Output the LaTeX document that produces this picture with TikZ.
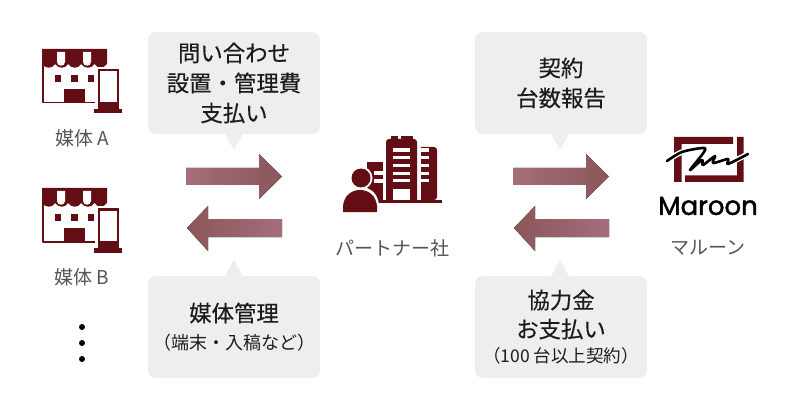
\documentclass[tikz,border=0pt]{standalone}
\usepackage{fontspec}
\setmainfont{Noto Sans CJK JP}[BoldFeatures={FakeBold=0.35}, BoldFont={Noto Sans CJK JP}]
\newfontfamily\logofont{Poppins}[BoldFeatures={FakeBold=1.6}, BoldFont={Poppins}]
\definecolor{maroondark}{HTML}{630D14}
\definecolor{bubblegray}{HTML}{EEEEEE}
\definecolor{labelgray}{HTML}{555555}
\definecolor{textdark}{HTML}{1C1C1C}
\definecolor{arrowlight}{HTML}{A56E7C}
\definecolor{arrowdeep}{HTML}{8A5659}
\tikzset{
  bubble/.style={fill=bubblegray, rounded corners=8pt, minimum width=172pt, minimum height=102pt, inner sep=0pt, align=center, text=textdark, font=\bfseries\fontsize{22.4}{30}\selectfont},
  caption/.style={text=labelgray, font=\fontsize{19}{22}\selectfont, inner sep=0pt},
  storeicon/.pic={
    \draw[maroondark, line width=1.8pt, fill=white] (0.9,10)--(0.9,53.6)--(53,53.6);
    \fill[maroondark] (0,0)--(65,0)--(65,15) .. controls (61,20) and (56,20) .. (52.5,15) .. controls (49,20) and (43,20) .. (39,15) .. controls (36,20) and (30,20) .. (26,15) .. controls (23,20) and (17,20) .. (13,15) .. controls (10,20) and (4,20) .. (0,15)--cycle;
    \fill[white] (15,3)--(23,3)--(23,13) .. controls (23,18) and (15,18) .. (15,13)--cycle;
    \fill[white] (41,3)--(49,3)--(49,13) .. controls (49,18) and (41,18) .. (41,13)--cycle;
    \foreach \wx in {12.5,29,45.5}
      \fill[maroondark] (\wx,26) rectangle ++(6.5,7);
    \fill[maroondark] (22,40) rectangle (43,54);
    \fill[white] (53,18) rectangle (81,60);
    \fill[maroondark] (56,20) rectangle (77,61);
    \fill[white] (58,22.5) rectangle (75,53);
    \fill[maroondark] (52,60) rectangle (80,64.5);
  }
}
\begin{document}
\begin{tikzpicture}[x=1pt, y=-1pt, line join=round]
  \useasboundingbox (0,0) rectangle (800,406);
  \pic at (42,49) {storeicon};
  \pic at (42,188) {storeicon};
  \node[caption] (mediaA) at (82,138) {媒体 A};
  \node[caption] (mediaB) at (82,277) {媒体 B};
  \foreach \dy in {327,343,359}
    \fill[black] (82,\dy) circle (3);
  \foreach \bx in {234,560} {
    \fill[bubblegray] (\bx-11,130)--(\bx,150)--(\bx+11,130)--cycle;
    \fill[bubblegray] (\bx-11,280)--(\bx,260)--(\bx+11,280)--cycle;
  }
  \node[bubble] (inquiry) at (234,83) {問い合わせ\\設置・管理費\\支払い};
  \node[bubble] (contract) at (561,83) {契約\\台数報告};
  \node[bubble] (manage) at (234,327) {媒体管理\\[-2pt]{\mdseries\fontsize{18}{24}\selectfont （端末・入稿など）}};
  \node[bubble] (payment) at (561,327) {協力金\\[-1pt]お支払い\\[-5pt]{\mdseries\fontsize{17.5}{22}\selectfont （100 台以上契約）}};
  \foreach \ax in {186,513} {
    \fill[left color=arrowlight, right color=arrowdeep] (\ax,168)--(\ax+73,168)--(\ax+73,154)--(\ax+96,176.5)--(\ax+73,199)--(\ax+73,185)--(\ax,185)--cycle;
    \fill[left color=arrowdeep, right color=arrowlight] (\ax+1,228)--(\ax+22,206)--(\ax+22,219)--(\ax+96,219)--(\ax+96,237)--(\ax+22,237)--(\ax+22,251)--cycle;
  }
  \fill[maroondark] (367,162) rectangle (383,200);
  \fill[white] (374,171) rectangle (383,175);
  \fill[white] (374,179) rectangle (383,183);
  \fill[maroondark] (421,147) [rounded corners=3pt] -- (437,147) -- (437,200) [sharp corners] -- (421,200) -- cycle;
  \fill[maroondark] (386,200) [rounded corners=3pt] -- (386,139) -- (417,139) [sharp corners] -- (417,200) -- cycle;
  \fill[maroondark] (391,136) rectangle (398,140);
  \fill[maroondark] (401,136) rectangle (413,140);
  \foreach \sy/\sh in {148/4,156/3,164/3,172/3,179/3} {
    \fill[white] (393,\sy) rectangle (410,\sy+\sh);
    \fill[white] (421,\sy) rectangle (429,\sy+\sh);
  }
  \fill[white] (393,189) rectangle (410,200);
  \fill[maroondark] (378,200) rectangle (442,203);
  \fill[white] (341,212) -- (341,205) .. controls (342,194) and (350,187) .. (360,187) .. controls (371,187) and (378,194) .. (379,205) -- (379,212) -- cycle;
  \fill[white] (361,178) circle (11.5);
  \fill[maroondark] (361,178) circle (9.5);
  \fill[maroondark] (343,212) -- (343,206) .. controls (344,196) and (351,190) .. (360,190) .. controls (369,190) and (376,196) .. (377,206) -- (377,212) -- cycle;
  \node[caption] (partner) at (392,248) {パートナー社};
  \fill[maroondark] (674,137) -- (733,137) -- (733,144) -- (681.5,144) -- (681.5,182) -- (674,182) -- cycle;
  \fill[maroondark] (737,137) -- (743.5,137) -- (743.5,182) -- (685,182) -- (685,175.5) -- (737,175.5) -- cycle;
  \draw[white, line width=5.5pt, line cap=round] plot[smooth, tension=0.6] coordinates {(667,161) (682,152) (703,148)};
  \draw[white, line width=5.5pt, line cap=round] (728,164) -- (748,154);
  \draw[black, line width=2.6pt, line cap=round] plot[smooth, tension=0.5] coordinates {(667,161) (682,152) (703,148) (704,152) (690,170) (702,160) (703,165) (715,156) (713,163) (728,159) (728,164) (748,154)};
  \node[inner sep=0pt, text=black] (logoname) at (708,206) {\logofont\bfseries\fontsize{26}{28}\selectfont Maroon};
  \node[caption] (maroonjp) at (708,248) {マルーン};
\end{tikzpicture}
\end{document}
